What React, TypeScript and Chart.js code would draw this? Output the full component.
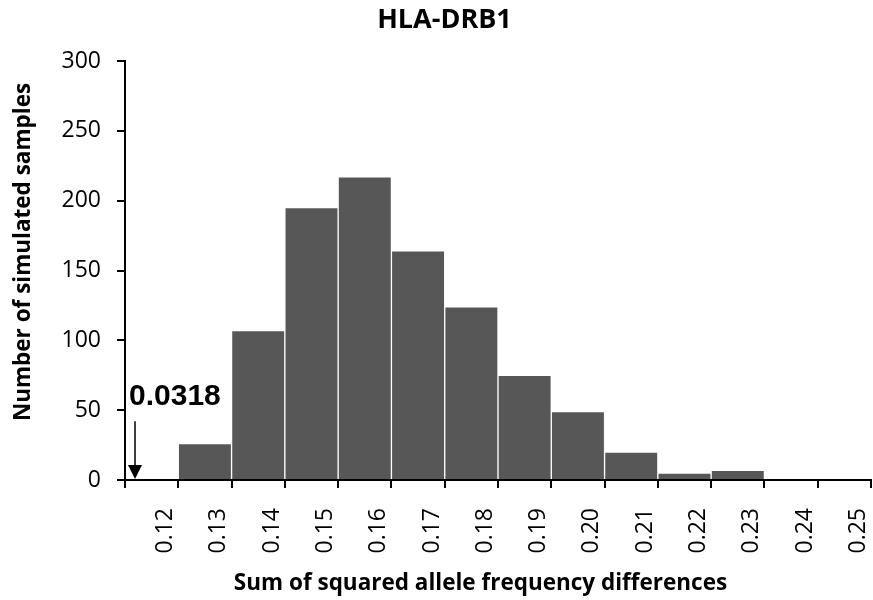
import { useEffect, useRef } from "react";
import { Chart, registerables } from "chart.js";

Chart.register(...registerables);

const CHART_TITLE = "HLA-DRB1";
const X_TITLE = "Sum of squared allele frequency differences";
const Y_TITLE = "Number of simulated samples";

const BIN_LABELS = ["0.12", "0.13", "0.14", "0.15", "0.16", "0.17", "0.18", "0.19", "0.20", "0.21", "0.22", "0.23", "0.24", "0.25"];
const COUNTS = [0, 26, 107, 195, 217, 164, 124, 75, 49, 20, 5, 7, 0, 0];

const Y_MIN = 0;
const Y_MAX = 300;
const Y_STEP = 50;

const MARKER_LABEL = "0.0318";
const MARKER_ARROW_TOP = 42;
const MARKER_TEXT_VALUE = 54;

const BAR_COLOR = "#575757";
const FONT = "'Open Sans', 'DejaVu Sans', sans-serif";

const decorPlugin = {
  id: "decor",
  afterDraw(chart: any) {
    const { ctx, scales } = chart;
    const x = scales.x;
    const y = scales.y;
    ctx.save();
    // Titles
    ctx.fillStyle = "#000";
    ctx.textAlign = "center";
    ctx.textBaseline = "alphabetic";
    ctx.font = `bold 27px ${FONT}`;
    ctx.fillText(CHART_TITLE, chart.width / 2 + 8, 28);
    ctx.font = `bold 22.5px ${FONT}`;
    ctx.fillText(X_TITLE, chart.width / 2 + 44, 590);
    ctx.save();
    ctx.translate(30, 252);
    ctx.rotate(-Math.PI / 2);
    ctx.fillText(Y_TITLE, 0, 0);
    ctx.restore();

    // Marker annotation
    const half = (x.getPixelForValue(1) - x.getPixelForValue(0)) / 2;
    const left = x.getPixelForValue(0) - half;
    const ax = left + 10;
    const yTop = y.getPixelForValue(MARKER_ARROW_TOP);
    const yBot = y.getPixelForValue(0) - 1;
    ctx.strokeStyle = "#000";
    ctx.lineWidth = 1.5;
    ctx.beginPath();
    ctx.moveTo(ax, yTop);
    ctx.lineTo(ax, yBot - 12);
    ctx.stroke();
    ctx.beginPath();
    ctx.moveTo(ax - 7, yBot - 14);
    ctx.lineTo(ax + 7, yBot - 14);
    ctx.lineTo(ax, yBot);
    ctx.closePath();
    ctx.fill();
    ctx.textAlign = "left";
    ctx.font = "bold 30px 'Liberation Sans', Arial, sans-serif";
    ctx.fillText(MARKER_LABEL, left + 4, y.getPixelForValue(MARKER_TEXT_VALUE));
    ctx.restore();
  },
};

export default function App() {
  const ref = useRef<HTMLCanvasElement | null>(null);
  useEffect(() => {
    if (!ref.current) return;
    const chart = new Chart(ref.current, {
      type: "bar",
      data: {
        labels: BIN_LABELS,
        datasets: [
          {
            data: COUNTS,
            backgroundColor: BAR_COLOR,
            borderColor: "#ffffff",
            borderWidth: 1,
            barPercentage: 1,
            categoryPercentage: 1,
          },
        ],
      },
      options: {
        animation: false,
        responsive: false,
        maintainAspectRatio: false,
        layout: { padding: { top: 61, right: 2, left: 0, bottom: 0 } },
        plugins: {
          legend: { display: false },
          tooltip: { enabled: false },
          title: { display: false },
        },
        scales: {
          x: {
            offset: true,
            afterFit(s: any) {
              s.height = 120;
              s.paddingLeft = 0;
              s.paddingRight = 0;
            },
            grid: {
              offset: true,
              drawOnChartArea: false,
              drawTicks: true,
              tickLength: 8,
              color: "#000",
              lineWidth: 2,
            },
            border: { display: true, color: "#000", width: 2 },
            ticks: {
              color: "#000",
              font: { family: FONT, size: 23 },
              minRotation: 90,
              maxRotation: 90,
              padding: 20,
              labelOffset: 14,
              autoSkip: false,
            },
          },
          y: {
            min: Y_MIN,
            max: Y_MAX,
            afterFit(s: any) {
              s.width = 125;
              s.paddingTop = 0;
              s.paddingBottom = 0;
            },
            grid: {
              drawOnChartArea: false,
              drawTicks: true,
              tickLength: 8,
              color: "#000",
              lineWidth: 2,
            },
            border: { display: true, color: "#000", width: 2 },
            ticks: {
              stepSize: Y_STEP,
              color: "#000",
              font: { family: FONT, size: 23 },
              padding: 16,
            },
          },
        },
      },
      plugins: [decorPlugin],
    });
    return () => chart.destroy();
  }, []);
  return (
    <div style={{ position: "absolute", left: 0, top: 0, width: 873, height: 600, background: "#fff" }}>
      <canvas ref={ref} width={873} height={600} style={{ display: "block" }} />
    </div>
  );
}
